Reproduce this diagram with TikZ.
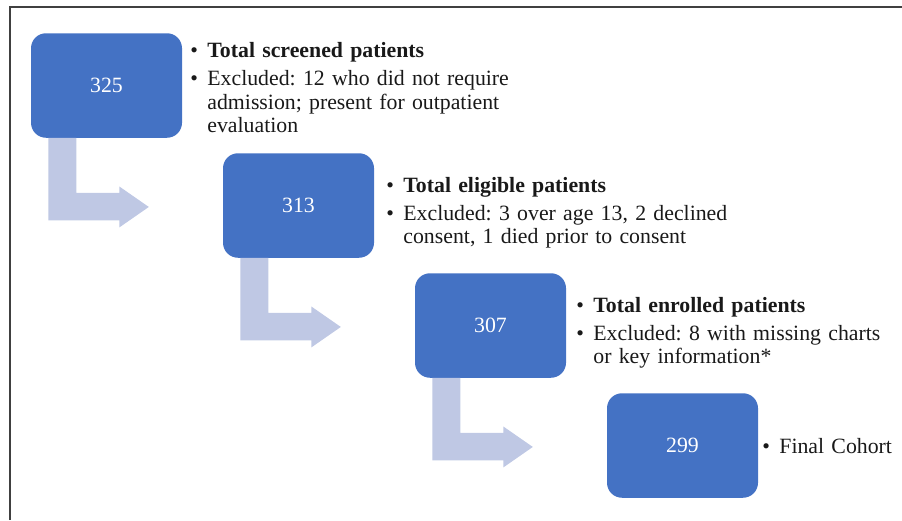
\documentclass[tikz,border=0pt]{standalone}
\usepackage{fontspec}
\setmainfont{Liberation Serif}
\usetikzlibrary{positioning}

\definecolor{boxblue}{RGB}{68,114,196}
\definecolor{arrowblue}{RGB}{191,200,228}
\definecolor{framegray}{RGB}{64,64,64}

% bullet item with hanging indent
\newcommand{\bul}{\par\parskip=4.5pt\hangindent=17pt\hangafter=1\noindent\makebox[17pt][l]{\textbullet}}

\tikzset{
    numbox/.style={fill=boxblue, rounded corners=15pt, minimum width=151pt, minimum height=104.5pt,
        inner sep=0pt, text=white, font=\fontsize{21.8}{23.5}\selectfont},
    infotext/.style={anchor=west, inner sep=0pt, text width=345pt,
        text=black!90, font=\fontsize{21.8}{23.5}\selectfont\frenchspacing\raggedright},
    bentarrow/.style={fill=arrowblue}
}

\begin{document}
\begin{tikzpicture}[x=1pt, y=-1pt]
            \useasboundingbox (0,0) rectangle (902,520);

            % frame
            \draw[framegray, line width=1.3pt] (10,520) -- (10,7) -- (902,7);

            % boxes
            \foreach \Num/\Val in {1/325, 2/313, 3/307, 4/299}{
                \node[numbox] (b\Num) at ({106.5+192*(\Num-1)}, {85.5+120*(\Num-1)}) {\Val};
            }

            % arrows
            \foreach \Num in {1,2,3}{
                \begin{scope}[shift={(b\Num.south west)}]
                    \fill[bentarrow] (17.5,0) -- (45.5,0) -- (45.5,55) -- (88.5,55) -- (88.5,48.5)
                        -- (118,69) -- (88.5,89.5) -- (88.5,82.5) -- (17.5,82.5) -- cycle;
                \end{scope}
            }

            % texts
            \node[infotext, right=8pt of b1, yshift=4pt] (t1) {\bul\textbf{Total screened patients}
                \bul Excluded: 12 who did not require\newline admission; present for outpatient\newline evaluation\par};
            \node[infotext, right=12pt of b2, yshift=-1pt] (t2) {\bul\textbf{Total eligible patients}
                \bul Excluded: 3 over age 13, 2 declined\newline consent, 1 died prior to consent\par};
            \node[infotext, right=10pt of b3, yshift=-1pt] (t3) {\bul\textbf{Total enrolled patients}
                \bul Excluded: 8 with missing charts\newline or key information*\par};
            \node[infotext, right=4pt of b4, yshift=6pt] (t4) {\bul Final Cohort\par};
        \end{tikzpicture}
\end{document}
